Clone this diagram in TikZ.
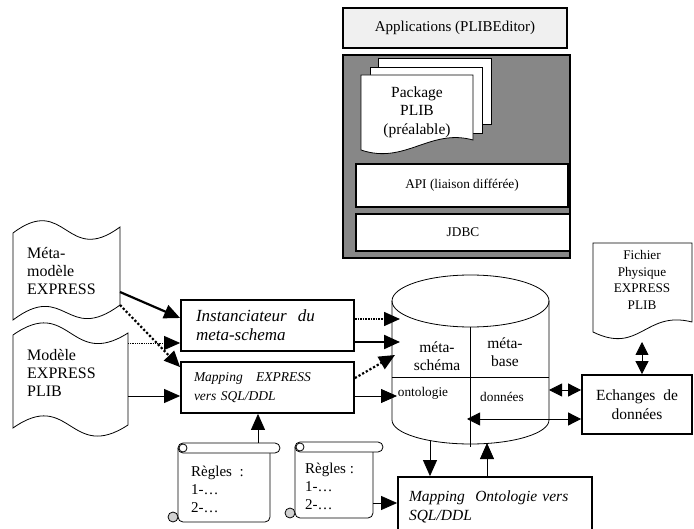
\documentclass[tikz,border=0pt]{standalone}
\usepackage{fontspec}
\setmainfont{Liberation Serif}
\usetikzlibrary{arrows.meta}

\begin{document}
\begin{tikzpicture}[
    x=1pt, y=-1pt,
    every node/.style={inner sep=0pt, align=center},
    thinline/.style={line width=0.8pt},
    box/.style={draw, line width=1.8pt, fill=white},
    txt/.style={font=\fontsize{15.5}{18.5}\selectfont},
    smalltxt/.style={font=\fontsize{13.3}{16.5}\selectfont},
    itxt/.style={font=\fontsize{15.5}{19}\selectfont\itshape},
    tip/.style={-{Triangle[length=16pt,width=14pt]}},
    twotips/.style={{Triangle[length=13pt,width=13pt]}-{Triangle[length=13pt,width=13pt]}},
    fat/.style={tip, line width=2.2pt},
    fatdots/.style={tip, line width=2.2pt, dotted},
  ]
  \useasboundingbox (0,0) rectangle (694,529);
  \clip (0,0) rectangle (694,529);

  \node[draw, line width=1.5pt, fill=gray!12, minimum width=224pt, minimum height=40pt,
        font=\fontsize{15}{18}\selectfont] (apps) at (455,28) {Applications (PLIBEditor)};
  \node[draw, line width=1.5pt, fill=black!47, minimum width=227pt, minimum height=203pt] (plib) at (456.5,156.5) {};
  \draw[thinline, fill=white] (378,58) rectangle (491,124);
  \draw[thinline, fill=white] (370,67) rectangle (482,133);
  \draw[thinline, fill=white] (361,75) -- (473,75) -- (473,140)
    .. controls (430,128) and (405,165) .. (361,150) -- cycle;
  \node[txt] (pkg) at (417,112) {Package\\PLIB\\(préalable)};
  \node[box, minimum width=212pt, minimum height=43pt, smalltxt] (api) at (462,185.5) {API (liaison différée)};
  \node[box, minimum width=214pt, minimum height=37pt, smalltxt] (jdbc) at (463,232.5) {JDBC};

  \draw[thinline, fill=white] (13,233) .. controls (66,193) and (66,267) .. (120,227)
    -- (120,305) .. controls (66,345) and (66,280) .. (13,320) -- cycle;
  \node[txt, align=left, anchor=west, font=\fontsize{16}{18}\selectfont] (metamod) at (27,271) {Méta-\\modèle\\EXPRESS};
  \draw[thinline, fill=white] (13,335) .. controls (70,295) and (70,370) .. (128,333)
    -- (128,425) .. controls (70,463) and (70,388) .. (13,428) -- cycle;
  \node[txt, align=left, anchor=west, font=\fontsize{16}{18}\selectfont] (modele) at (27,373) {Modèle\\EXPRESS\\PLIB};
  \coordinate (mm-a) at (120,292);
  \coordinate (mm-b) at (120,305);
  \coordinate (me-a) at (128,343);
  \coordinate (me-b) at (128,396);

  \node[box, minimum width=173pt, minimum height=51pt, text width=143pt, inner xsep=15pt, align=left,
        font=\fontsize{17}{19}\selectfont\itshape] (inst) at (267.5,325.5) {Instanciateur~~du\\meta-schema};
  \node[box, minimum width=173pt, minimum height=51pt, text width=147pt, inner xsep=13pt, align=left,
        font=\fontsize{13.5}{19}\selectfont\itshape] (mapx) at (267.5,387.5) {Mapping~~~EXPRESS\\vers SQL/DDL};

  \draw[thinline] (470.5,301) ellipse[x radius=78.5pt, y radius=26pt];
  \draw[thinline] (392,301) -- (392,420) arc[start angle=180, end angle=360, x radius=78.5pt, y radius=24pt] -- (549,301);
  \draw[thinline] (470.5,327) -- (470.5,447);
  \draw[thinline] (392,377) -- (549,377);
  \node[txt] (schema) at (437,356) {méta-\\schéma};
  \node[txt] (base) at (505,352) {méta-\\base};
  \node[smalltxt] (ontolab) at (423,393) {ontologie};
  \node[smalltxt] (donnees) at (502,397) {données};
  \coordinate (cyl-a) at (400,319);
  \coordinate (cyl-b) at (400,342);
  \coordinate (cyl-c) at (395,355);
  \coordinate (cyl-d) at (397,396);
  \coordinate (cyl-s1) at (430,441);
  \coordinate (cyl-s2) at (487,443);
  \coordinate (cyl-e1) at (549,390);
  \coordinate (cyl-e2) at (467,419);

  \draw[thinline, fill=white] (593,243) -- (692,243) -- (692,322)
    .. controls (645,310) and (640,355) .. (593,332) -- cycle;
  \node[font=\fontsize{13.2}{16.7}\selectfont] (fichier) at (642,280) {Fichier\\Physique\\EXPRESS\\PLIB};
  \coordinate (fich-s) at (642,342);
  \node[box, minimum width=110pt, minimum height=59pt, txt] (ech) at (637,404.5) {Echanges~~de\\données};

  \foreach \sx/\sy/\sw/\sh in {178/443/92/79, 295/442/78/76} {
    \begin{scope}[shift={(\sx,\sy)}]
      \draw[thinline, fill=white, rounded corners=5pt] (0,5) -- (0,\sh) -- (\sw,\sh) -- (\sw,5);
      \draw[thinline, fill=white, rounded corners=5pt] (0,0) rectangle ({\sw+10},10);
      \draw[thinline, fill=white] (5,5) circle[radius=4pt];
      \draw[thinline, fill=gray!35] (-5,{\sh-5}) circle[radius=5pt];
    \end{scope}
  }
  \node[txt, align=left, anchor=west, font=\fontsize{15}{18}\selectfont] (r1txt) at (191,489) {Règles~~:\\1-…\\2-…};
  \node[txt, align=left, anchor=west, font=\fontsize{15}{18}\selectfont] (r2txt) at (305,486) {Règles~:\\1-…\\2-…};
  \coordinate (r1-top) at (258,443);
  \coordinate (r2-e) at (373,503);

  \node[box, minimum width=194pt, minimum height=60pt, text width=172pt, inner xsep=11pt, align=left,
        itxt] (onto) at (495,507) {Mapping~~Ontologie vers\\SQL/DDL};

  \draw[fat] (mm-a) -- ([yshift=7.5pt]inst.west);
  \draw[fatdots] (mm-b) -- ([yshift=-6pt]mapx.north west);
  \draw[tip, thinline, densely dotted] (me-a) -- (inst.west |- me-a);
  \draw[tip, thinline] (me-b) -- (mapx.west |- me-b);
  \draw[tip, line width=1.6pt, densely dotted] (inst.east |- cyl-a) -- (cyl-a);
  \draw[fat] (inst.east |- cyl-b) -- (cyl-b);
  \draw[fatdots] ([yshift=-17pt]mapx.north east) -- (cyl-c);
  \draw[tip, thinline] (mapx.east |- cyl-d) -- (cyl-d);
  \draw[tip, thinline] (r1-top) -- (mapx.south -| r1-top);
  \draw[tip, thinline] (r2-e) -- (onto.west |- r2-e);
  \draw[tip, thinline] (cyl-s1) -- (onto.north -| cyl-s1);
  \draw[tip, thinline] (onto.north -| cyl-s2) -- (cyl-s2);
  \draw[twotips, thinline] (cyl-e1) -- (ech.west |- cyl-e1);
  \draw[twotips, thinline] (cyl-e2) -- (ech.west |- cyl-e2);
  \draw[twotips, thinline] (fich-s) -- (ech.north -| fich-s);
\end{tikzpicture}
\end{document}
